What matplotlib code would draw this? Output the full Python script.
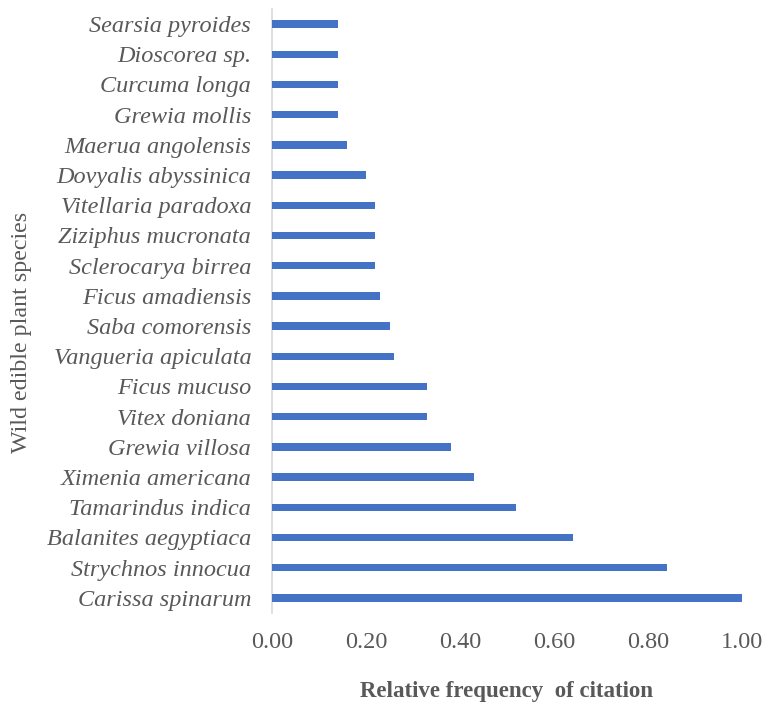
import matplotlib
matplotlib.use("Agg")
import matplotlib.pyplot as plt

# Species ordered bottom to top
species = [
    "Carissa spinarum", "Strychnos innocua", "Balanites aegyptiaca",
    "Tamarindus indica", "Ximenia americana", "Grewia villosa",
    "Vitex doniana", "Ficus mucuso", "Vangueria apiculata",
    "Saba comorensis", "Ficus amadiensis", "Sclerocarya birrea",
    "Ziziphus mucronata", "Vitellaria paradoxa", "Dovyalis abyssinica",
    "Maerua angolensis", "Grewia mollis", "Curcuma longa",
    "Dioscorea sp.", "Searsia pyroides",
]
rfc = [1.00, 0.84, 0.64, 0.52, 0.43, 0.38, 0.33, 0.33, 0.26, 0.25,
       0.23, 0.22, 0.22, 0.22, 0.20, 0.16, 0.14, 0.14, 0.14, 0.14]
xticks = [0.0, 0.2, 0.4, 0.6, 0.8, 1.0]

plt.rcParams["font.family"] = ["Liberation Serif", "DejaVu Serif"]
grey = "#595959"

fig = plt.figure(figsize=(7.69, 7.08), dpi=100)
W, H = 769, 708
left, right, top, bottom = 272, 742, 9, 613
ax = fig.add_axes([left / W, 1 - bottom / H, (right - left) / W, (bottom - top) / H])

ypos = list(range(len(species)))
ax.barh(ypos, rfc, height=0.25, color="#4472C4", zorder=3)

ax.set_xlim(0, 1.0)
ax.set_ylim(-0.5, len(species) - 0.5)
ax.set_yticks(ypos)
ax.set_yticklabels(species, fontsize=17.5, fontstyle="italic", color=grey)
ax.set_xticks(xticks)
ax.set_xticklabels([f"{v:.2f}" for v in xticks], fontsize=17.5, color=grey)
ax.tick_params(axis="y", length=0, pad=15)
ax.tick_params(axis="x", length=0, pad=14)

for s in ["top", "right", "bottom"]:
    ax.spines[s].set_visible(False)
ax.spines["left"].set_color("#D9D9D9")
ax.spines["left"].set_linewidth(1.2)

ax.set_xlabel("Relative frequency  of citation", fontsize=16.5, fontweight="bold",
              color=grey, labelpad=20)
fig.text(22 / W, 1 - 332 / H, "Wild edible plant species", rotation=90,
         fontsize=17.3, color=grey, ha="center", va="center")

fig.savefig("out.png", dpi=100, facecolor="white")
